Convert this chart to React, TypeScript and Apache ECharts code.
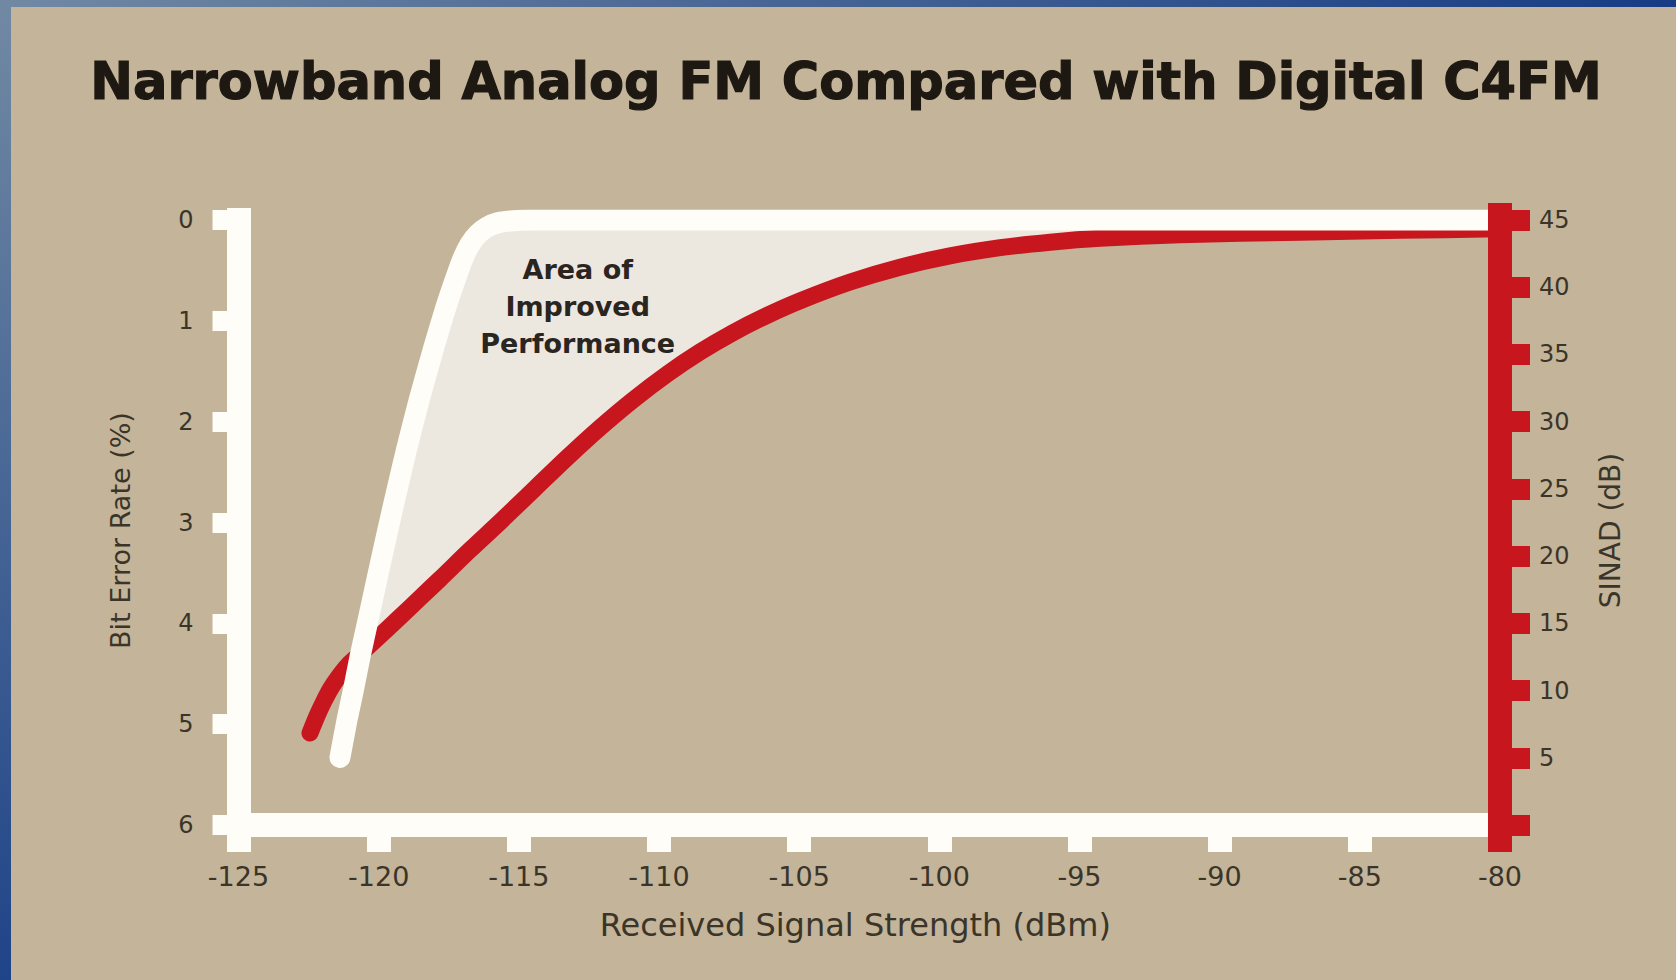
import { useEffect, useRef } from 'react';
import * as echarts from 'echarts';

// ---- texts ----
const TITLE = 'Narrowband Analog FM Compared with Digital C4FM';
const X_NAME = 'Received Signal Strength (dBm)';
const LEFT_NAME = 'Bit Error Rate (%)';
const RIGHT_NAME = 'SINAD (dB)';
const AREA_LABEL = ['Area of', 'Improved', 'Performance'];

// ---- axes ----
const X_MIN = -125;
const X_MAX = -80;
const X_STEP = 5;
const BER_MIN = 0;
const BER_MAX = 6;
const BER_STEP = 1;
const SINAD_MIN = 0;
const SINAD_MAX = 45;
const SINAD_STEP = 5;

// ---- digital C4FM: bit error rate (%) vs received signal strength (dBm) ----
const whiteX = [-121.38, -121.13, -120.9, -120.65, -120.38, -119.99, -119.67, -119.35, -119.01, -118.56, -118.06, -117.63, -117.28, -116.99, -116.74, -116.46, -116.13, -115.78, -115.31, -114.6, -80];
const whiteBer = [5.33, 4.96, 4.66, 4.31, 3.97, 3.47, 3.07, 2.68, 2.28, 1.79, 1.29, 0.89, 0.6, 0.38, 0.24, 0.14, 0.07, 0.03, 0.01, 0, 0];

// ---- analog FM: SINAD (dB) vs received signal strength (dBm) ----
const redX = [-122.45, -122.2, -121.95, -121.7, -121.41, -121.09, -120.74, -120.31, -119.77, -119.24, -118.53, -117.81, -116.74, -115.67, -114.42, -113.28, -112.1, -110.93, -109.71, -108.54, -107.36, -106.15, -104.97, -103.18, -101.4, -99.62, -97.83, -96.05, -94.26, -91.41, -87.13, -83.56, -80];
const redSinad = [6.84, 8.11, 9.22, 10.19, 11.08, 11.9, 12.57, 13.39, 14.43, 15.47, 16.88, 18.3, 20.46, 22.54, 25.04, 27.32, 29.56, 31.61, 33.54, 35.18, 36.62, 37.9, 38.99, 40.39, 41.49, 42.33, 42.94, 43.35, 43.64, 43.9, 44.09, 44.23, 44.35];

// where the two curves cross, start of the shaded area
const CROSS_X = -120.66;
// anchor of the "Area of Improved Performance" note (x in dBm, y in BER %)
const AREA_LABEL_AT = [-112.9, 0.86];

const BG = '#c3b49a';
const WHITE = '#fffdf7';
const RED = '#c8161f';
const INK = '#3b3428';
const FONT = 'DejaVu Sans';

// both vertical axes share the same pixel span: BER 0 <-> SINAD 45 at top
const sinadToBer = (s: number) =>
  ((SINAD_MAX - s) / (SINAD_MAX - SINAD_MIN)) * (BER_MAX - BER_MIN) + BER_MIN;

export default function App() {
  const ref = useRef<HTMLDivElement>(null);

  useEffect(() => {
    if (!ref.current) return;
    const chart = echarts.init(ref.current, null, { renderer: 'svg' });

    const whiteData = whiteX.map((x, i) => [x, whiteBer[i]]);
    const redData = redX.map((x, i) => [x, redSinad[i]]);

    const option: any = {
      animation: false,
      backgroundColor: BG,
      textStyle: { fontFamily: FONT },
      graphic: [
        {
          id: 'topBand',
          type: 'rect',
          shape: { x: 0, y: 0, width: 1676, height: 7 },
          style: {
            fill: new echarts.graphic.LinearGradient(0, 0, 1, 0, [
              { offset: 0, color: '#7189a3' },
              { offset: 1, color: '#173c84' },
            ]),
          },
          z: 10,
        },
        {
          id: 'leftBand',
          type: 'rect',
          shape: { x: 0, y: 0, width: 11, height: 980 },
          style: {
            fill: new echarts.graphic.LinearGradient(0, 0, 0, 1, [
              { offset: 0, color: '#7189a3' },
              { offset: 1, color: '#1f4488' },
            ]),
          },
          z: 10,
        },
        {
          id: 'title',
          type: 'text',
          x: 846,
          y: 81,
          style: {
            text: TITLE,
            fill: '#1d1812',
            stroke: '#1d1812',
            lineWidth: 1.2,
            fontFamily: FONT,
            fontWeight: 'bold',
            fontSize: 51,
            align: 'center',
            verticalAlign: 'middle',
          },
          z: 10,
        },
      ],
      grid: {
        left: 238.5,
        right: 176,
        top: 220,
        bottom: 155,
        containLabel: false,
        outerBoundsMode: 'none',
      },
      xAxis: {
        type: 'value',
        position: 'bottom',
        min: X_MIN,
        max: X_MAX,
        interval: X_STEP,
        name: X_NAME,
        nameLocation: 'middle',
        nameGap: 84,
        nameTextStyle: { fontSize: 32, color: INK, fontFamily: FONT, padding: [0, 28, 0, 0] },
        axisLine: { show: true, onZero: false, lineStyle: { color: WHITE, width: 24 } },
        axisTick: { show: true, length: 27, lineStyle: { color: WHITE, width: 24 } },
        axisLabel: { margin: 38, fontSize: 27, color: INK, fontFamily: FONT },
        splitLine: { show: false },
        z: 1,
      },
      yAxis: [
        {
          type: 'value',
          position: 'left',
          inverse: true,
          min: BER_MIN,
          max: BER_MAX,
          interval: BER_STEP,
          name: LEFT_NAME,
          nameLocation: 'middle',
          nameRotate: 90,
          nameGap: 105,
          nameTextStyle: { fontSize: 27, color: INK, fontFamily: FONT, padding: [0, 16, 0, 0] },
          axisLine: { show: true, onZero: false, lineStyle: { color: WHITE, width: 24, cap: 'square' } },
          axisTick: { show: true, length: 26, lineStyle: { color: WHITE, width: 20 } },
          axisLabel: { margin: 45, fontSize: 24, color: INK, fontFamily: FONT },
          splitLine: { show: false },
          z: 2,
        },
        {
          type: 'value',
          position: 'right',
          min: SINAD_MIN,
          max: SINAD_MAX,
          interval: SINAD_STEP,
          name: RIGHT_NAME,
          nameLocation: 'middle',
          nameRotate: 90,
          nameGap: 96,
          nameTextStyle: { fontSize: 28, color: INK, fontFamily: FONT, padding: [0, 16, 0, 0] },
          axisLine: { show: true, onZero: false, lineStyle: { color: RED, width: 24, cap: 'square' } },
          axisTick: { show: true, length: 30, lineStyle: { color: RED, width: 21 } },
          axisLabel: {
            margin: 39,
            fontSize: 24,
            color: INK,
            fontFamily: FONT,
            formatter: (v: number) => (v === SINAD_MIN ? '' : String(v)),
          },
          splitLine: { show: false },
          z: 5,
        },
      ],
      series: [
        {
          type: 'custom',
          name: 'Area of Improved Performance',
          xAxisIndex: 0,
          yAxisIndex: 0,
          z: 1,
          silent: true,
          data: [[X_MIN, BER_MIN]],
          renderItem: (_params: any, api: any) => {
            const pts: number[][] = [];
            whiteX.forEach((x, i) => {
              if (x >= CROSS_X) pts.push(api.coord([x, whiteBer[i]]));
            });
            for (let i = redX.length - 1; i >= 0; i--) {
              if (redX[i] >= CROSS_X) pts.push(api.coord([redX[i], sinadToBer(redSinad[i])]));
            }
            const p = api.coord(AREA_LABEL_AT);
            return {
              type: 'group',
              children: [
                { type: 'polygon', shape: { points: pts }, style: { fill: '#ece8df' } },
                {
                  type: 'text',
                  x: p[0],
                  y: p[1],
                  style: {
                    text: AREA_LABEL.join('\n'),
                    fill: '#2a251f',
                    fontFamily: FONT,
                    fontWeight: 'bold',
                    fontSize: 27,
                    lineHeight: 37,
                    align: 'center',
                    verticalAlign: 'middle',
                  },
                },
              ],
            };
          },
        },
        {
          type: 'line',
          name: 'Analog FM SINAD',
          xAxisIndex: 0,
          yAxisIndex: 1,
          data: redData,
          smooth: 0.3,
          symbol: 'none',
          z: 2,
          lineStyle: { color: RED, width: 17, cap: 'round', join: 'round' },
        },
        {
          type: 'line',
          name: 'C4FM Bit Error Rate',
          xAxisIndex: 0,
          yAxisIndex: 0,
          data: whiteData,
          smooth: 0.2,
          symbol: 'none',
          z: 3,
          lineStyle: { color: WHITE, width: 21, cap: 'round', join: 'round' },
        },
      ],
    };

    chart.setOption(option);

    // red SINAD bar runs past the plot frame at both ends, over the white frame
    const xr = chart.convertToPixel({ xAxisIndex: 0 }, X_MAX) as number;
    const yTop = chart.convertToPixel({ yAxisIndex: 1 }, SINAD_MAX) as number;
    const yBottom = chart.convertToPixel({ yAxisIndex: 1 }, SINAD_MIN) as number;
    chart.setOption({
      graphic: [
        {
          id: 'redBar',
          type: 'rect',
          shape: { x: xr - 12, y: yTop - 17, width: 24, height: yBottom - yTop + 44 },
          style: { fill: RED },
          z: 6,
        },
      ],
    });

    return () => chart.dispose();
  }, []);

  return (
    <div
      ref={ref}
      style={{ position: 'fixed', left: 0, top: 0, width: 1676, height: 980 }}
    />
  );
}
